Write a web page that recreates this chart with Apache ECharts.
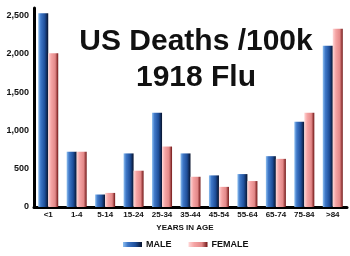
<!DOCTYPE html>
<html><head><meta charset="utf-8">
<script src="https://cdn.jsdelivr.net/npm/echarts@6/dist/echarts.min.js"></script>
<style>html,body{margin:0;padding:0;background:#fff}#c{width:350px;height:256px}</style>
</head><body><div id="c"></div>
<script>
const categories = ['<1','1-4','5-14','15-24','25-34','35-44','45-54','55-64','65-74','75-84','>84'];
const male = [2530, 722, 163, 700, 1230, 700, 413, 430, 664, 1114, 2108];
const female = [2010, 722, 184, 474, 790, 395, 263, 339, 629, 1232, 2329];
const yTicks = [0, 500, 1000, 1500, 2000, 2500];

const maleGrad = new echarts.graphic.LinearGradient(0,0,1,0,[
  {offset:0,color:'#8fc0f0'},{offset:0.25,color:'#3f78c8'},{offset:0.65,color:'#1f4f9a'},{offset:1,color:'#07122c'}]);
const femaleGrad = new echarts.graphic.LinearGradient(0,0,1,0,[
  {offset:0,color:'#ffd6d6'},{offset:0.3,color:'#f5a4a4'},{offset:0.7,color:'#e38888'},{offset:1,color:'#701414'}]);

const chart = echarts.init(document.getElementById('c'), null, {renderer:'canvas'});
chart.setOption({
  animation:false,
  backgroundColor:'#fff',
  title:{
    text:'US Deaths /100k\n1918 Flu',
    left:191, top:19, textAlign:'center',
    textStyle:{fontFamily:'Liberation Sans',fontWeight:'bold',fontSize:30,lineHeight:36,color:'#111'}
  },
  legend:{
    top:235, left:118, itemGap:17, itemWidth:19, itemHeight:5,
    icon:'rect',
    textStyle:{fontFamily:'Liberation Sans',fontWeight:'bold',fontSize:9,color:'#111',padding:[0,0,0,-1]},
    data:['MALE','FEMALE']
  },
  grid:{left:34,right:3,top:8,bottom:49,containLabel:false},
  xAxis:{
    type:'category', data:categories,
    name:'YEARS IN AGE', nameLocation:'middle', nameGap:13,
    nameTextStyle:{fontFamily:'Liberation Sans',fontWeight:'bold',fontSize:8,color:'#111',padding:[0,11,0,0]},
    axisLine:{lineStyle:{color:'#000',width:3}},
    axisTick:{show:false},
    axisLabel:{fontFamily:'Liberation Sans',fontWeight:'bold',fontSize:8,color:'#111',margin:4,interval:0}
  },
  yAxis:{
    type:'value', min:0, max:2600, interval:500,
    axisLine:{show:true,lineStyle:{color:'#000',width:3}},
    axisTick:{show:false},
    splitLine:{show:false},
    axisLabel:{fontFamily:'Liberation Sans',fontWeight:'bold',fontSize:9,color:'#111',margin:5,showMaxLabel:false,
      formatter:v=>yTicks.indexOf(v)>=0 ? v.toLocaleString('en-US') : ''}
  },
  series:[
    {name:'MALE',type:'bar',data:male,barWidth:10,barGap:'0%',itemStyle:{color:maleGrad}},
    {name:'FEMALE',type:'bar',data:female,barWidth:10,itemStyle:{color:femaleGrad}}
  ]
});
</script></body></html>
